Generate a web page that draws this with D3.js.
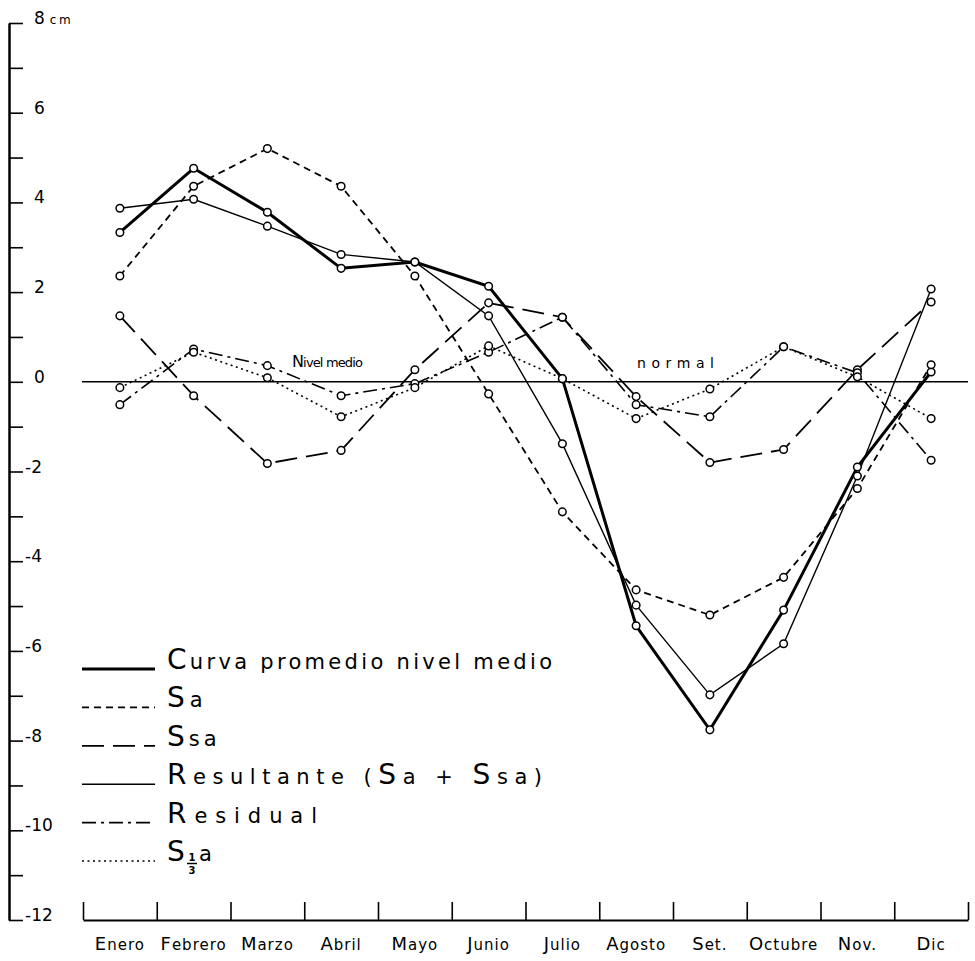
<!DOCTYPE html>
<html>
<head>
<meta charset="utf-8">
<script src="https://cdn.jsdelivr.net/npm/d3@7"></script>
<style>
  body { margin: 0; background: #fff; }
  svg { display: block; }
</style>
</head>
<body>
<svg id="chart" width="975" height="961"></svg>
<script>
// ---- data (cm, monthly) ----
const months = ["Enero", "Febrero", "Marzo", "Abril", "Mayo", "Junio", "Julio", "Agosto", "Set.", "Octubre", "Nov.", "Dic"];
const curva = [3.33, 4.76, 3.78, 2.53, 2.67, 2.13, 0.07, -5.44, -7.76, -5.09, -1.9, 0.22];
const sa = [2.36, 4.36, 5.2, 4.36, 2.36, -0.27, -2.9, -4.64, -5.2, -4.36, -2.38, 0.38];
const ssa = [1.47, -0.31, -1.82, -1.53, 0.27, 1.76, 1.44, -0.33, -1.8, -1.51, 0.27, 1.78];
const resultante = [3.87, 4.07, 3.47, 2.84, 2.67, 1.47, -1.38, -4.98, -6.98, -5.84, -2.1, 2.07];
const residual = [-0.51, 0.73, 0.36, -0.31, -0.04, 0.66, 1.44, -0.51, -0.78, 0.78, 0.2, -1.75];
const sTercio = [-0.13, 0.66, 0.09, -0.78, -0.13, 0.8, 0.07, -0.82, -0.16, 0.78, 0.11, -0.82];
const yTickValues = [8, 6, 4, 2, 0, -2, -4, -6, -8, -10, -12];
const legendLabels = ["Curva promedio nivel medio", "Sa", "Ssa", "Resultante (Sa + Ssa)", "Residual", "S13a"];

// styles per series, same order as the legend
const styles = [
    { width: 3, dash: null },
    { width: 1.8, dash: "7,5" },
    { width: 1.8, dash: "22,9" },
    { width: 1.4, dash: null },
    { width: 1.6, dash: "14,5,3,5" },
    { width: 1.6, dash: "2,3.5" }
];
const series = [curva, sa, ssa, resultante, residual, sTercio].map((values, i) => ({
    name: legendLabels[i], values, ...styles[i]
}));

const svg = d3.select("#chart").attr("font-family", "DejaVu Sans, sans-serif");

const x = d3.scaleBand().domain(months).range([83, 968]);
const xEdge = d3.scaleLinear().domain([0, months.length]).range([83, 968]);
const y = d3.scaleLinear().domain([-12, 8]).range([920, 23]);
const cx = m => x(m) + x.bandwidth() / 2;

// lettering: capitals / digits bigger than lower case, like the hand stencil
function lettered(g, str, px, py, big, small, anchor, spacing, len) {
    const t = g.append("text")
        .attr("x", px).attr("y", py)
        .attr("text-anchor", anchor)
        .attr("letter-spacing", spacing)
        .attr("fill", "#000");
    const runs = [];
    for (const ch of str) {
        const up = /[A-Z0-9]/.test(ch);
        if (runs.length && runs[runs.length - 1].up === up) runs[runs.length - 1].s += ch;
        else runs.push({ up, s: ch });
    }
    runs.forEach(r => t.append("tspan").attr("font-size", r.up ? big : small).text(r.s));
    if (len) t.attr("textLength", len).attr("lengthAdjust", "spacing");
    return t;
}

// y axis
const gy = svg.append("g")
    .attr("transform", "translate(9,0)")
    .call(d3.axisRight(y).tickValues(d3.range(-12, 9)).tickSize(14).tickSizeOuter(0).tickFormat(""));
gy.select(".domain").attr("stroke-width", 2.5);
gy.selectAll(".tick line").attr("stroke-width", 1.6);

svg.append("g").selectAll("text")
    .data(yTickValues)
    .join("text")
    .attr("x", d => d < 0 ? 25 : 34)
    .attr("y", d => y(d) + 1)
    .attr("font-size", 17)
    .each(function(d) {
        const t = d3.select(this);
        t.append("tspan").text(d);
        if (d === 8) t.append("tspan").attr("font-size", 12).attr("letter-spacing", 2.5).attr("dx", 5).text("cm");
    });

// x axis: ticks at month boundaries, labels in between
const gx = svg.append("g")
    .attr("transform", "translate(0,920)")
    .call(d3.axisTop(xEdge).tickValues(d3.range(0, months.length + 1)).tickSize(18).tickSizeOuter(0).tickFormat(""));
gx.select(".domain").attr("stroke-width", 2);
gx.selectAll(".tick line").attr("stroke-width", 1.6);

const gMonths = svg.append("g");
months.forEach(m => lettered(gMonths, m, cx(m), 950, 18, 15, "middle", 1));

// zero line and its labels
svg.append("line")
    .attr("x1", 82).attr("x2", 968)
    .attr("y1", y(0)).attr("y2", y(0))
    .attr("stroke", "#000").attr("stroke-width", 1.5);
lettered(svg, "Nivel medio", 292, 367, 16, 13, "start", 0, 71);
lettered(svg, "normal", 637, 368, 15, 14, "start", 3, 80);

// series lines
const line = d3.line().x((d, i) => cx(months[i])).y(d => y(d));
svg.append("g").selectAll("path")
    .data(series)
    .join("path")
    .attr("d", d => line(d.values))
    .attr("fill", "none")
    .attr("stroke", "#000")
    .attr("stroke-width", d => d.width)
    .attr("stroke-dasharray", d => d.dash);

// open circles on every point
svg.append("g").selectAll("g")
    .data(series)
    .join("g")
    .selectAll("circle")
    .data(d => d.values)
    .join("circle")
    .attr("cx", (d, i) => cx(months[i]))
    .attr("cy", d => y(d))
    .attr("r", 3.8)
    .attr("fill", "#fff")
    .attr("stroke", "#000")
    .attr("stroke-width", 1.5);

// legend
const legendY = d3.scalePoint().domain(legendLabels).range([669, 861]);
const legendWidths = [388, null, null, 378, 153, null];
const legendSpacing = [3, 5, 4, 3, 3, 0];
const gl = svg.append("g");
gl.selectAll("line")
    .data(series)
    .join("line")
    .attr("x1", 82).attr("x2", 155)
    .attr("y1", d => legendY(d.name)).attr("y2", d => legendY(d.name))
    .attr("stroke", "#000")
    .attr("stroke-width", d => d.width)
    .attr("stroke-dasharray", d => d.dash);

legendLabels.slice(0, 5).forEach((lab, i) =>
    lettered(gl, lab, 167, legendY(lab), 28, 21, "start", legendSpacing[i], legendWidths[i]));

// S 1/3 a
const ly = legendY("S13a");
gl.append("text").attr("x", 167).attr("y", ly).attr("font-size", 28).text("S");
gl.append("text").attr("x", 192).attr("y", ly).attr("font-size", 10).attr("font-weight", "bold")
    .attr("text-anchor", "middle").text("1");
gl.append("line").attr("x1", 187).attr("x2", 197).attr("y1", ly + 2.5).attr("y2", ly + 2.5)
    .attr("stroke", "#000").attr("stroke-width", 1.5);
gl.append("text").attr("x", 192).attr("y", ly + 13).attr("font-size", 10).attr("font-weight", "bold")
    .attr("text-anchor", "middle").text("3");
gl.append("text").attr("x", 199).attr("y", ly).attr("font-size", 21).text("a");
</script>
</body>
</html>
